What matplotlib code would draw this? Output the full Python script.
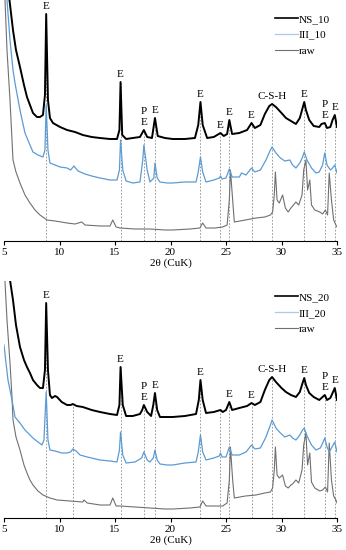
import matplotlib
matplotlib.use("Agg")
import matplotlib.pyplot as plt
import numpy as np

plt.rcParams['font.family'] = ['Liberation Serif', 'DejaVu Serif']
plt.rcParams['font.size'] = 8

# ---- top panel (10 %) : 2theta / intensity (a.u.) ----
ns10_x = [5.0, 5.3, 5.45, 5.81, 6.08, 6.44, 6.80, 7.07, 7.34, 7.61, 7.97, 8.24, 8.51, 8.69, 8.8, 8.96,
          9.14, 9.41, 10.05, 10.68, 11.4, 12.1, 12.9, 13.65, 14.55, 15.18, 15.4, 15.5, 15.65, 16.0,
          16.6, 17.25, 17.45, 17.6, 17.9, 18.33, 18.6, 18.85, 19.5, 20.2, 21.3, 22.2, 22.5, 22.7,
          22.9, 23.3, 23.9, 24.5, 24.8, 25.1, 25.3, 25.55, 26.2, 26.9, 27.3, 27.6, 28.1, 28.5, 28.9,
          29.15, 29.5, 30.0, 30.4, 30.85, 31.3, 31.65, 31.9, 32.05, 32.2, 32.5, 32.9, 33.4, 33.6,
          33.9, 34.1, 34.4, 34.6, 34.8, 35.0]
ns10_y = [400, 320, 245, 211, 191, 174, 156, 144, 136, 128, 124, 124, 126, 146, 227, 141,
          123, 118, 114, 111, 109, 106, 104, 103, 102, 102, 111, 159, 106, 102,
          103, 104, 108, 111, 104, 103, 123, 105, 103, 102, 102, 103, 116, 139,
          116, 103, 104, 108, 105, 107, 121, 107, 108, 111, 118, 113, 116, 127, 135,
          137, 134, 128, 123, 120, 117, 123, 133, 139, 131, 121, 115, 114, 117,
          118, 113, 114, 121, 126, 114]

iii10_x = [5.0, 5.27, 5.54, 5.81, 5.99, 6.44, 6.89, 7.34, 7.61, 8.06, 8.51, 8.69, 8.8, 8.96, 9.14,
           9.6, 10.05, 10.68, 11.0, 11.3, 11.67, 12.3, 12.9, 13.65, 14.55, 15.18, 15.4, 15.5, 15.7,
           16.0, 16.6, 17.25, 17.5, 17.6, 17.9, 18.15, 18.5, 18.6, 18.8, 19.05, 19.7, 20.2, 21.3,
           22.3, 22.5, 22.7, 22.9, 23.2, 23.9, 24.4, 24.5, 24.65, 25.0, 25.3, 25.55, 26.2, 26.4,
           26.8, 27.3, 27.6, 28.1, 28.6, 29.0, 29.15, 29.5, 29.9, 30.3, 30.75, 31.0, 31.3, 31.65,
           31.9, 32.05, 32.3, 32.7, 33.1, 33.4, 33.7, 33.9, 34.1, 34.4, 34.6, 34.8, 35.0]
iii10_y = [330, 241, 201, 171, 158, 131, 108, 96, 89, 86, 84, 91, 136, 91, 78,
           76, 74, 73, 71, 75, 70, 67, 65, 63, 61, 61, 71, 101, 71,
           60, 58, 59, 81, 96, 71, 59, 63, 78, 63, 59, 58, 58, 59,
           59, 69, 84, 69, 59, 61, 63, 65, 62, 63, 72, 64, 64, 68,
           66, 73, 69, 71, 81, 91, 94, 88, 83, 80, 81, 76, 73, 78,
           84, 89, 81, 73, 68, 69, 76, 88, 76, 71, 73, 76, 68]

raw10_x = [5.0, 5.09, 5.27, 5.54, 5.72, 5.81, 6.08, 6.44, 6.89, 7.34, 7.79, 8.24, 8.87, 9.6, 10.68,
           11.4, 12.0, 12.3, 13.65, 14.55, 14.8, 15.1, 15.45, 16.8, 18.15, 19.5, 20.2, 21.75, 22.65,
           22.9, 23.2, 24.0, 24.7, 25.1, 25.3, 25.4, 25.6, 25.75, 26.75, 27.7, 28.5, 29.0, 29.2,
           29.35, 29.45, 29.6, 29.8, 30.1, 30.35, 30.6, 30.85, 31.0, 31.3, 31.55, 31.85, 32.0, 32.2,
           32.35, 32.55, 32.7, 33.0, 33.45, 33.7, 33.95, 34.15, 34.3, 34.5, 34.7, 34.9, 35.0]
raw10_y = [300, 241, 191, 141, 101, 81, 69, 58, 46, 38, 31, 26, 21, 20, 18,
           17, 19, 16, 15, 15, 21, 14, 13, 12, 12, 11, 11, 12, 13,
           18, 13, 13, 14, 16, 41, 71, 41, 19, 21, 23, 24, 26, 29,
           46, 69, 41, 38, 46, 33, 29, 33, 35, 39, 36, 46, 71, 81,
           51, 61, 36, 31, 29, 27, 31, 26, 68, 41, 21, 16, 14]

# ---- bottom panel (20 %) ----
ns20_x = [5.0, 5.2, 5.54, 5.81, 6.08, 6.44, 6.8, 7.07, 7.34, 7.61, 7.97, 8.24, 8.51, 8.69, 8.8, 8.96,
          9.14, 9.32, 9.6, 9.78, 10.2, 10.68, 11.0, 11.2, 11.55, 12.1, 12.9, 13.65, 14.55, 15.18,
          15.4, 15.5, 15.7, 16.0, 16.6, 17.25, 17.45, 17.6, 17.9, 18.25, 18.45, 18.6, 18.8, 19.05,
          19.7, 20.2, 21.3, 22.3, 22.55, 22.7, 22.9, 23.2, 23.9, 24.5, 24.7, 25.0, 25.3, 25.55,
          26.2, 26.9, 27.3, 27.6, 28.1, 28.5, 28.9, 29.15, 29.5, 30.0, 30.4, 30.85, 31.3, 31.65,
          31.9, 32.05, 32.2, 32.5, 32.9, 33.4, 33.6, 33.9, 34.1, 34.4, 34.6, 34.8, 35.0]
ns20_y = [400, 330, 238, 218, 193, 171, 158, 151, 145, 138, 133, 130, 130, 148, 215, 148,
          123, 120, 122, 121, 116, 113, 113, 114, 112, 111, 108, 106, 104, 103,
          113, 151, 113, 102, 102, 104, 108, 113, 106, 102, 113, 125, 108, 101,
          101, 101, 102, 104, 118, 138, 118, 105, 106, 108, 106, 108, 116, 108,
          110, 112, 115, 113, 116, 128, 138, 141, 136, 130, 126, 123, 121, 126,
          135, 140, 133, 125, 121, 118, 120, 123, 118, 120, 125, 130, 118]

iii20_x = [5.0, 5.18, 5.36, 5.72, 5.99, 6.44, 6.89, 7.34, 7.61, 8.06, 8.42, 8.6, 8.8, 8.96, 9.14,
           9.6, 10.2, 10.68, 11.0, 11.2, 11.5, 11.85, 12.5, 13.65, 14.55, 15.18, 15.4, 15.5, 15.7,
           16.0, 16.8, 17.4, 17.6, 17.9, 18.15, 18.45, 18.6, 18.8, 19.05, 19.7, 20.2, 21.3, 22.3,
           22.5, 22.7, 22.9, 23.2, 23.9, 24.4, 24.5, 24.65, 25.0, 25.3, 25.55, 26.2, 26.8, 27.3,
           27.6, 28.1, 28.6, 29.0, 29.15, 29.5, 29.9, 30.3, 30.75, 31.0, 31.3, 31.65, 31.9, 32.05,
           32.3, 32.7, 33.1, 33.5, 33.75, 33.9, 34.1, 34.3, 34.6, 34.8, 35.0]
iii20_y = [173, 155, 138, 118, 101, 95, 88, 83, 80, 76, 73, 78, 126, 78, 68,
           67, 65, 65, 66, 69, 67, 63, 61, 58, 57, 56, 68, 86, 63,
           55, 56, 60, 66, 58, 56, 60, 68, 58, 54, 53, 53, 55, 56,
           66, 83, 66, 58, 60, 62, 65, 61, 61, 71, 63, 63, 66, 73,
           69, 70, 81, 93, 98, 90, 85, 81, 83, 80, 78, 83, 88, 90,
           82, 73, 68, 70, 76, 80, 71, 66, 72, 76, 66]

raw20_x = [5.0, 5.09, 5.27, 5.54, 5.72, 5.81, 6.08, 6.44, 6.8, 7.07, 7.34, 7.61, 8.06, 8.51, 9.14,
           9.78, 10.95, 12.1, 12.2, 12.5, 13.65, 14.55, 14.8, 15.1, 15.45, 16.8, 18.15, 19.5, 20.2,
           21.75, 22.65, 22.9, 23.2, 24.0, 24.7, 25.1, 25.3, 25.4, 25.6, 25.75, 26.75, 27.7, 28.5,
           29.0, 29.2, 29.35, 29.45, 29.6, 29.8, 30.1, 30.35, 30.6, 30.85, 31.0, 31.3, 31.55, 31.85,
           32.0, 32.2, 32.35, 32.55, 32.7, 33.0, 33.45, 33.7, 33.95, 34.15, 34.3, 34.5, 34.7, 34.9, 35.0]
raw20_y = [280, 236, 198, 155, 121, 98, 81, 68, 53, 45, 38, 33, 27, 23, 20,
           18, 17, 16, 18, 15, 13, 13, 20, 12, 12, 11, 10, 9, 9,
           10, 11, 17, 12, 12, 12, 15, 38, 71, 38, 20, 22, 23, 25,
           26, 30, 48, 71, 43, 40, 43, 32, 30, 33, 34, 38, 35, 48,
           73, 85, 53, 65, 36, 30, 27, 28, 31, 26, 75, 38, 22, 18, 15]

# phase reflections (E = ettringite, P = portlandite)
peaks_10 = [8.8, 15.5, 17.6, 18.6, 22.7, 24.5, 25.3, 27.3, 29.15, 32.05, 33.9, 34.8]
labels_10 = ['E', 'E', 'P\nE', 'E', 'E', 'E', 'E', 'E', 'C-S-H', 'E', 'P\nE', 'E']
peaks_20 = [8.8, 11.2, 15.5, 17.6, 18.6, 22.7, 24.5, 25.3, 27.3, 29.15, 32.05, 33.9, 34.8]
labels_20 = ['E', '', 'E', 'P\nE', 'E', 'E', '', 'E', 'E', 'C-S-H', 'E', 'P\nE', 'E']

C_NS = 'black'
C_III = '#5b9bd5'
C_RAW = '#707070'


def panel(ax, ns, iii, raw, names, peaks, labels, ymax, legend_y):
    ax.plot(raw[0], raw[1], color=C_RAW, lw=0.8, label=names[2], zorder=3)
    ax.plot(iii[0], iii[1], color=C_III, lw=0.9, label=names[1], zorder=4)
    ax.plot(ns[0], ns[1], color=C_NS, lw=1.4, label=names[0], zorder=5)
    tops = np.interp(peaks, ns[0], ns[1])
    ax.vlines(peaks, 0, tops, colors='#8c8c8c', lw=0.6, linestyles=(0, (2, 2)), zorder=2)
    for p, t, lab in zip(peaks, tops, labels):
        if lab:
            ax.annotate(lab, (p, t), xytext=(0, 2.5), textcoords='offset points',
                        ha='center', va='bottom', fontsize=8, linespacing=1.15, zorder=6)
    ax.set_xlim(5, 35)
    ax.set_ylim(0, ymax)
    ax.set_xticks(range(5, 36, 5))
    ax.tick_params(axis='x', direction='out', length=3, width=0.8, labelsize=8, pad=2)
    ax.set_yticks([])
    for s in ['top', 'right', 'left']:
        ax.spines[s].set_visible(False)
    ax.spines['bottom'].set_linewidth(0.8)
    ax.set_xlabel('2θ (CuK)', fontsize=8, labelpad=1)
    h, l = ax.get_legend_handles_labels()
    leg = ax.legend(h[::-1], l[::-1], loc='upper left', bbox_to_anchor=(0.815, legend_y),
                    frameon=False, fontsize=8, handlelength=2.0, handletextpad=0.1,
                    labelspacing=0.55, borderpad=0, borderaxespad=0)
    leg.get_lines()[0].set_linewidth(1.2)
    leg.get_lines()[1].set_color('#a9cbe8')


fig = plt.figure(figsize=(3.46, 5.50), dpi=100)
ax1 = fig.add_axes([4 / 346, 309 / 550, 333 / 346, 241 / 550])
ax2 = fig.add_axes([4 / 346, 32 / 550, 333 / 346, 237 / 550])

panel(ax1, (ns10_x, ns10_y), (iii10_x, iii10_y), (raw10_x, raw10_y),
      ['NS_10', 'III_10', 'raw'], peaks_10, labels_10, 241, 0.942)
panel(ax2, (ns20_x, ns20_y), (iii20_x, iii20_y), (raw20_x, raw20_y),
      ['NS_20', 'III_20', 'raw'], peaks_20, labels_20, 237, 0.953)

fig.savefig('out.png', dpi=100)
